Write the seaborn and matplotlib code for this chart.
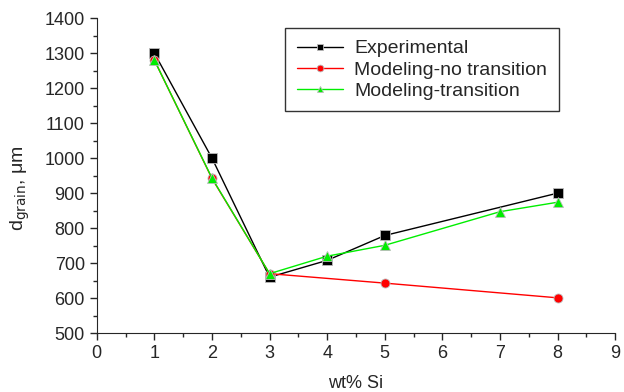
import pandas as pd
import seaborn as sns
import matplotlib.pyplot as plt
from matplotlib.ticker import MultipleLocator

# values
exp_x = [1, 2, 3, 4, 5, 8]
exp_y = [1300, 1000, 660, 708, 779, 900]
notr_x = [1, 2, 3, 5, 8]
notr_y = [1280, 942, 670, 643, 601]
tr_x = [1, 2, 3, 4, 5, 7, 8]
tr_y = [1280, 943, 670, 720, 751, 847, 874]

series = [
    ("Experimental", exp_x, exp_y, "black", "s"),
    ("Modeling-no transition", notr_x, notr_y, "red", "o"),
    ("Modeling-transition", tr_x, tr_y, "#00ee00", "^"),
]

sns.set_style("ticks")
plt.rcParams["font.family"] = ["Liberation Sans", "DejaVu Sans"]

fig = plt.figure(figsize=(6.24, 3.92), dpi=100)
ax = fig.add_axes([0.155, 0.150, 0.831, 0.804])

for name, xs, ys, color, marker in series:
    df = pd.DataFrame({"x": xs, "y": ys})
    sns.lineplot(data=df, x="x", y="y", ax=ax, color=color, marker=marker,
                 markersize=6.5, markeredgecolor="#bbbbbb", markeredgewidth=0.6,
                 linewidth=1, label=name)

ax.set_xlim(0, 9)
ax.set_ylim(500, 1400)
ax.xaxis.set_major_locator(MultipleLocator(1))
ax.xaxis.set_minor_locator(MultipleLocator(0.5))
ax.yaxis.set_major_locator(MultipleLocator(100))
ax.yaxis.set_minor_locator(MultipleLocator(50))
ax.tick_params(which="major", length=5, width=1, labelsize=13)
ax.tick_params(which="minor", length=3, width=1)
sns.despine(ax=ax)
ax.set_xlabel("wt% Si", fontsize=13, labelpad=9)
ax.set_ylabel(r"d$_{\mathrm{grain}}$, μm", fontsize=14)
ax.yaxis.set_label_coords(-0.125, 0.46)

leg = ax.legend(loc="upper left", bbox_to_anchor=(0.363, 0.968), frameon=True,
                fancybox=False, edgecolor="black", fontsize=14,
                handlelength=2.4, handletextpad=0.55, borderpad=0.6,
                labelspacing=0.18, markerscale=0.75, borderaxespad=0)
leg.get_frame().set_linewidth(1)

fig.savefig("out.png", dpi=100)
